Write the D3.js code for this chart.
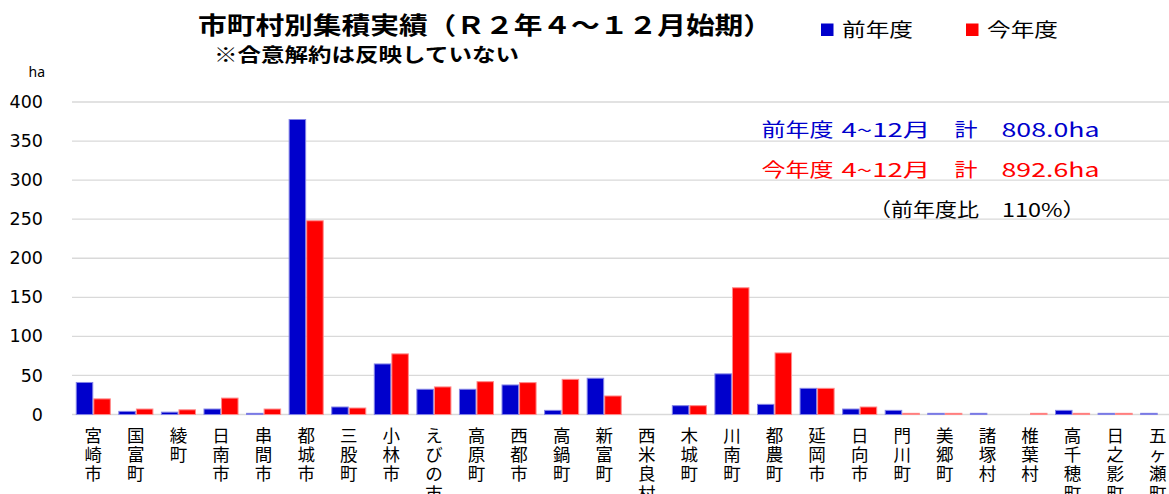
<!DOCTYPE html>
<html>
<head>
<meta charset="utf-8">
<script src="https://cdn.jsdelivr.net/npm/d3@7"></script>
<style>
  body { margin: 0; background: #fff; }
  svg { display: block; }
</style>
</head>
<body>
<div id="my_dataviz"></div>
<script>
// data
var categories = ["宮崎市", "国富町", "綾町", "日南市", "串間市", "都城市", "三股町", "小林市", "えびの市",
    "高原町", "西都市", "高鍋町", "新富町", "西米良村", "木城町", "川南町", "都農町", "延岡市", "日向市",
    "門川町", "美郷町", "諸塚村", "椎葉村", "高千穂町", "日之影町", "五ヶ瀬町"];
var prevYear = [41, 4, 3, 7, 1.5, 377.6, 9.6, 64.7, 32.3, 32.3, 37.8, 5.3, 46.4, 0, 11.3, 52, 13, 33.5, 7,
    5.3, 1.5, 1.5, 0, 5.3, 1.5, 1.5];
var thisYear = [20, 7, 6, 21, 7, 248, 8.3, 77.6, 35.3, 42, 40.8, 45, 23.7, 0, 11.3, 162.2, 78.8, 33.5, 9.6,
    1.5, 1.5, 0, 1.5, 1.5, 1.5, 0];
var seriesNames = ["前年度", "今年度"];
var yTicks = [0, 50, 100, 150, 200, 250, 300, 350, 400];

var colors = { "前年度": "#0000cc", "今年度": "#ff0000" };
var strokes = { "前年度": "#8484e6", "今年度": "#ff8a8a" };

var width = 1169, height = 494;

var svg = d3.select("#my_dataviz")
    .append("svg")
    .attr("width", width)
    .attr("height", height);

// scales
var x0 = d3.scaleBand()
    .domain(categories)
    .range([72, 1179])
    .paddingInner(0.2)
    .paddingOuter(0.1);

var x1 = d3.scaleBand()
    .domain(seriesNames)
    .range([0, x0.bandwidth()])
    .paddingInner(0.06);

var y = d3.scaleLinear()
    .domain([0, 400])
    .range([414.5, 102]);

// gridlines
svg.append("g")
    .selectAll("line")
    .data(yTicks)
    .enter()
    .append("line")
    .attr("x1", 72)
    .attr("x2", width)
    .attr("y1", d => y(d))
    .attr("y2", d => y(d))
    .attr("stroke", "#d9d9d9")
    .attr("stroke-width", 1.3);

// y axis labels
var yAxis = svg.append("g")
    .attr("transform", "translate(43,0)")
    .call(d3.axisLeft(y).tickValues(yTicks).tickSize(0).tickPadding(0));
yAxis.select(".domain").remove();
yAxis.selectAll("text")
    .attr("font-family", "'DejaVu Sans', sans-serif")
    .attr("font-size", 17.5)
    .attr("fill", "#000");

svg.append("text")
    .attr("x", 45)
    .attr("y", 77)
    .attr("text-anchor", "end")
    .attr("font-family", "'Noto Sans', sans-serif")
    .attr("font-size", 14)
    .text("ha");

// bars
var rows = categories.map((c, i) => ({ group: c, values: [
    { key: seriesNames[0], value: prevYear[i] },
    { key: seriesNames[1], value: thisYear[i] }
] }));

svg.append("g")
    .selectAll("g")
    .data(rows)
    .enter()
    .append("g")
    .attr("transform", d => "translate(" + x0(d.group) + ",0)")
    .selectAll("rect")
    .data(d => d.values.filter(v => v.value > 0))
    .enter()
    .append("rect")
    .attr("x", d => x1(d.key))
    .attr("y", d => y(d.value))
    .attr("width", x1.bandwidth())
    .attr("height", d => y(0) - y(d.value))
    .attr("fill", d => colors[d.key])
    .attr("stroke", d => strokes[d.key])
    .attr("stroke-width", 1);

// x labels, one character per line
var xLabels = svg.append("g")
    .selectAll("text")
    .data(categories)
    .enter()
    .append("text")
    .attr("font-family", "'Noto Sans CJK JP', sans-serif")
    .attr("font-size", 17.5)
    .attr("text-anchor", "middle")
    .attr("fill", "#000");

xLabels.each(function (d) {
    var t = d3.select(this);
    var cx = x0(d) + x0.bandwidth() / 2;
    Array.from(d).forEach((ch, k) => {
        t.append("tspan")
            .attr("x", cx)
            .attr("y", 442 + k * 19.2)
            .text(ch);
    });
});

// title + note
svg.append("text")
    .attr("x", 198)
    .attr("y", 34)
    .attr("font-family", "'Noto Sans CJK JP', sans-serif")
    .attr("font-weight", 700)
    .attr("font-size", 24)
    .attr("textLength", 574)
    .attr("lengthAdjust", "spacingAndGlyphs")
    .text("市町村別集積実績（Ｒ２年４～１２月始期）");

svg.append("text")
    .attr("x", 214)
    .attr("y", 62)
    .attr("font-family", "'Noto Sans CJK JP', sans-serif")
    .attr("font-weight", 700)
    .attr("font-size", 19)
    .attr("textLength", 305)
    .attr("lengthAdjust", "spacingAndGlyphs")
    .text("※合意解約は反映していない");

// legend
var legendX = [821, 966];
var legendTextW = 71;
seriesNames.forEach((s, i) => {
    svg.append("rect")
        .attr("x", legendX[i])
        .attr("y", 23.5)
        .attr("width", 12.5)
        .attr("height", 12.5)
        .attr("fill", colors[s]);
    svg.append("text")
        .attr("x", legendX[i] + 21)
        .attr("y", 37)
        .attr("font-family", "'Noto Sans CJK JP', sans-serif")
        .attr("font-size", 19)
        .attr("textLength", legendTextW)
        .attr("lengthAdjust", "spacingAndGlyphs")
        .attr("fill", "#000")
        .text(s);
});

// summary notes
var noteLines = [
    { parts: ["前年度", "4~12月", "計", "808.0ha"], color: "#0000cc", y: 136.5 },
    { parts: ["今年度", "4~12月", "計", "892.6ha"], color: "#ff0000", y: 176.5 },
    { parts: ["（前年度比", "110%）"], color: "#000", y: 217 }
];
var partPos = [[761.5, 72], [841.5, 89], [954.5, 23], [1001.5, 98]];
var ratioPos = [[869, 110], [1002, 84]];

noteLines.forEach((line, i) => {
    var pos = i < 2 ? partPos : ratioPos;
    line.parts.forEach((p, k) => {
        svg.append("text")
            .attr("x", pos[k][0])
            .attr("y", line.y)
            .attr("font-family", "'Noto Sans CJK JP', sans-serif")
            .attr("font-size", 19)
            .attr("textLength", pos[k][1])
            .attr("lengthAdjust", "spacingAndGlyphs")
            .attr("fill", line.color)
            .text(p);
    });
});
</script>
</body>
</html>
